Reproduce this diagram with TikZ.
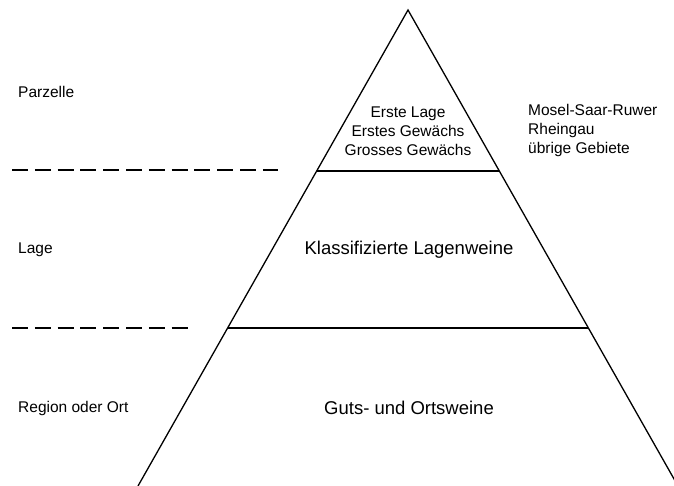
\documentclass[tikz,border=0pt]{standalone}
\usepackage{fontspec}
\setmainfont{Liberation Sans}
\usetikzlibrary{calc}
\tikzset{
  small/.style={font=\fontsize{15.5}{19}\selectfont, inner sep=0pt},
  big/.style={font=\fontsize{18.5}{22}\selectfont, inner sep=0pt},
  pyr/.style={line width=1.3pt, black},
  sep/.style={line width=2pt, dash pattern=on 16pt off 6.8pt, black},
}
\begin{document}
\begin{tikzpicture}[x=1pt,y=-1pt]
\useasboundingbox (0,0) rectangle (674,486);
\begin{scope}
\clip (0,0) rectangle (674,486);
\coordinate (apex) at (408,10);
\coordinate (bl) at (138,486);
\coordinate (br) at (678,486);
\draw[pyr] (bl) -- (apex) -- (br);
\coordinate (l1) at ($(apex)!0.3382!(bl)$);
\coordinate (r1) at ($(apex)!0.3382!(br)$);
\coordinate (l2) at ($(apex)!0.668!(bl)$);
\coordinate (r2) at ($(apex)!0.668!(br)$);
\draw[pyr] (l1) -- (r1);
\draw[pyr] (l2) -- (r2);
\end{scope}
% dashed separators
\coordinate (d1a) at (12,170);
\coordinate (d1b) at (278,170);
\coordinate (d2a) at (12,328);
\coordinate (d2b) at (189,328);
\draw[sep] (d1a) -- (d1b);
\draw[sep] (d2a) -- (d2b);
% left labels
\node[small, anchor=west] (parz) at (18,92) {Parzelle};
\node[small, anchor=west] (lage) at (18,250) {Lage};
\node[small, anchor=west] (reg) at (18,408) {Region oder Ort};
% pyramid labels
\node[small, align=center] (top) at (408,131) {Erste Lage\\Erstes Gewächs\\Grosses Gewächs};
\node[big] (mid) at (409,250) {Klassifizierte Lagenweine};
\node[big] (bot) at (409,408) {Guts- und Ortsweine};
% right labels
\node[small, align=left, anchor=west] (gebiete) at (528,130) {Mosel-Saar-Ruwer\\Rheingau\\übrige Gebiete};
\end{tikzpicture}
\end{document}
